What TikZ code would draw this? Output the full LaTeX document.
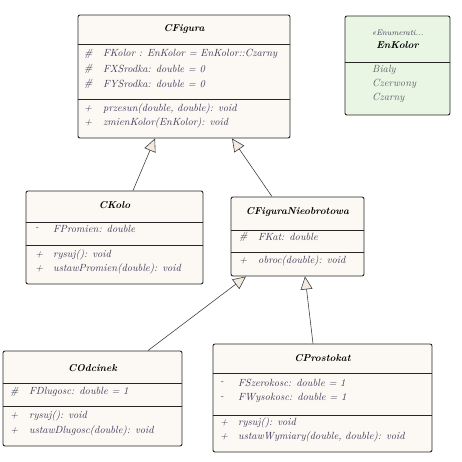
\documentclass[tikz,border=0pt]{standalone}
\usetikzlibrary{arrows.meta}
\definecolor{cream}{HTML}{FCF8F4}
\definecolor{mint}{HTML}{E9F6E3}
\definecolor{tri}{HTML}{F2EADF}
\definecolor{txt}{HTML}{3C3C58}
\definecolor{gtxt}{HTML}{606070}
\tikzset{
  x=1pt, y=-1pt,
  cls/.style={draw=black!85, line width=0.9pt, fill=cream, rounded corners=2pt, inner sep=0pt},
  enm/.style={cls, fill=mint},
  ttl/.style={font=\fontsize{10}{12}\selectfont\bfseries\itshape, text=black, anchor=center, inner sep=0pt},
  row/.style={font=\fontsize{10.4}{12}\selectfont\itshape, text=txt, anchor=west, inner sep=0pt},
  erow/.style={row, text=gtxt},
  sep/.style={draw=black!85, line width=0.8pt},
  inh/.style={draw=black!75, line width=0.6pt, -{Triangle[length=13pt,width=12pt,fill=tri]}},
}
\begin{document}
\begin{tikzpicture}
\useasboundingbox (0,0) rectangle (462,462);
% CFigura
\node[cls, minimum width=212pt, minimum height=123pt] (fig) at (184,76.5) {};
\node[ttl] (figT) at (184,29) {CFigura};
\draw[sep] (fig.west |- 0,44) -- (fig.east |- 0,44);
\draw[sep] (fig.west |- 0,99) -- (fig.east |- 0,99);
\node[row] (figV1) at (84,54) {\#};
\node[row] (figA1) at (103,54) {FKolor : EnKolor = EnKolor::Czarny};
\node[row] (figV2) at (84,69) {\#};
\node[row] (figA2) at (103,69) {FXSrodka: double = 0};
\node[row] (figV3) at (84,84) {\#};
\node[row] (figA3) at (103,84) {FYSrodka: double = 0};
\node[row] (figV4) at (84,109) {+};
\node[row] (figM1) at (103,109) {przesun(double, double): void};
\node[row] (figV5) at (84,123) {+};
\node[row] (figM2) at (103,123) {zmienKolor(EnKolor): void};
% EnKolor
\node[enm, minimum width=105pt, minimum height=99pt] (enk) at (397.5,65.5) {};
\node[row, anchor=center, text=txt, font=\fontsize{8}{9}\selectfont\itshape] (enkS) at (397.5,33) {«Enumerati...};
\node[ttl] (enkT) at (397.5,45) {EnKolor};
\draw[sep] (enk.west |- 0,62) -- (enk.east |- 0,62);
\node[erow] (enk1) at (372,70) {Bialy};
\node[erow] (enk2) at (372,84) {Czerwony};
\node[erow] (enk3) at (372,98) {Czarny};
% CKolo
\node[cls, minimum width=177pt, minimum height=93pt] (kolo) at (114.5,237.5) {};
\node[ttl] (koloT) at (114.5,205) {CKolo};
\draw[sep] (kolo.west |- 0,222) -- (kolo.east |- 0,222);
\draw[sep] (kolo.west |- 0,245) -- (kolo.east |- 0,245);
\node[row] (koloV1) at (35,229) {-};
\node[row] (koloA1) at (53,229) {FPromien: double};
\node[row] (koloV2) at (35,255) {+};
\node[row] (koloM1) at (53,255) {rysuj(): void};
\node[row] (koloV3) at (35,269) {+};
\node[row] (koloM2) at (53,269) {ustawPromien(double): void};
% CFiguraNieobrotowa
\node[cls, minimum width=133pt, minimum height=79pt] (nob) at (297.5,236.5) {};
\node[ttl] (nobT) at (297.5,212) {CFiguraNieobrotowa};
\draw[sep] (nob.west |- 0,230) -- (nob.east |- 0,230);
\draw[sep] (nob.west |- 0,252) -- (nob.east |- 0,252);
\node[row] (nobV1) at (239,237) {\#};
\node[row] (nobA1) at (258,237) {FKat: double};
\node[row] (nobV2) at (239,261) {+};
\node[row] (nobM1) at (258,261) {obroc(double): void};
% COdcinek
\node[cls, minimum width=179pt, minimum height=95pt] (odc) at (92.5,398.5) {};
\node[ttl] (odcT) at (92.5,368) {COdcinek};
\draw[sep] (odc.west |- 0,383) -- (odc.east |- 0,383);
\draw[sep] (odc.west |- 0,406) -- (odc.east |- 0,406);
\node[row] (odcV1) at (10,392) {\#};
\node[row] (odcA1) at (29,392) {FDlugosc: double = 1};
\node[row] (odcV2) at (10,416) {+};
\node[row] (odcM1) at (29,416) {rysuj(): void};
\node[row] (odcV3) at (10,431) {+};
\node[row] (odcM2) at (29,431) {ustawDlugosc(double): void};
% CProstokat
\node[cls, minimum width=219pt, minimum height=108pt] (pro) at (322.5,398) {};
\node[ttl] (proT) at (322.5,358) {CProstokat};
\draw[sep] (pro.west |- 0,373) -- (pro.east |- 0,373);
\draw[sep] (pro.west |- 0,415) -- (pro.east |- 0,415);
\node[row] (proV1) at (220,383) {-};
\node[row] (proA1) at (238,383) {FSzerokosc: double = 1};
\node[row] (proV2) at (220,398) {-};
\node[row] (proA2) at (238,398) {FWysokosc: double = 1};
\node[row] (proV3) at (220,423) {+};
\node[row] (proM1) at (238,423) {rysuj(): void};
\node[row] (proV4) at (220,437) {+};
\node[row] (proM2) at (238,437) {ustawWymiary(double, double): void};
% inheritance
\draw[inh] ([xshift=18.5pt]kolo.north) -- ([xshift=-29pt]fig.south);
\draw[inh] ([xshift=-25.5pt]nob.north) -- ([xshift=48pt]fig.south);
\draw[inh] ([xshift=55.5pt]odc.north) -- ([xshift=-51.5pt]nob.south);
\draw[inh] ([xshift=-9.5pt]pro.north) -- ([xshift=7.5pt]nob.south);
\end{tikzpicture}
\end{document}
